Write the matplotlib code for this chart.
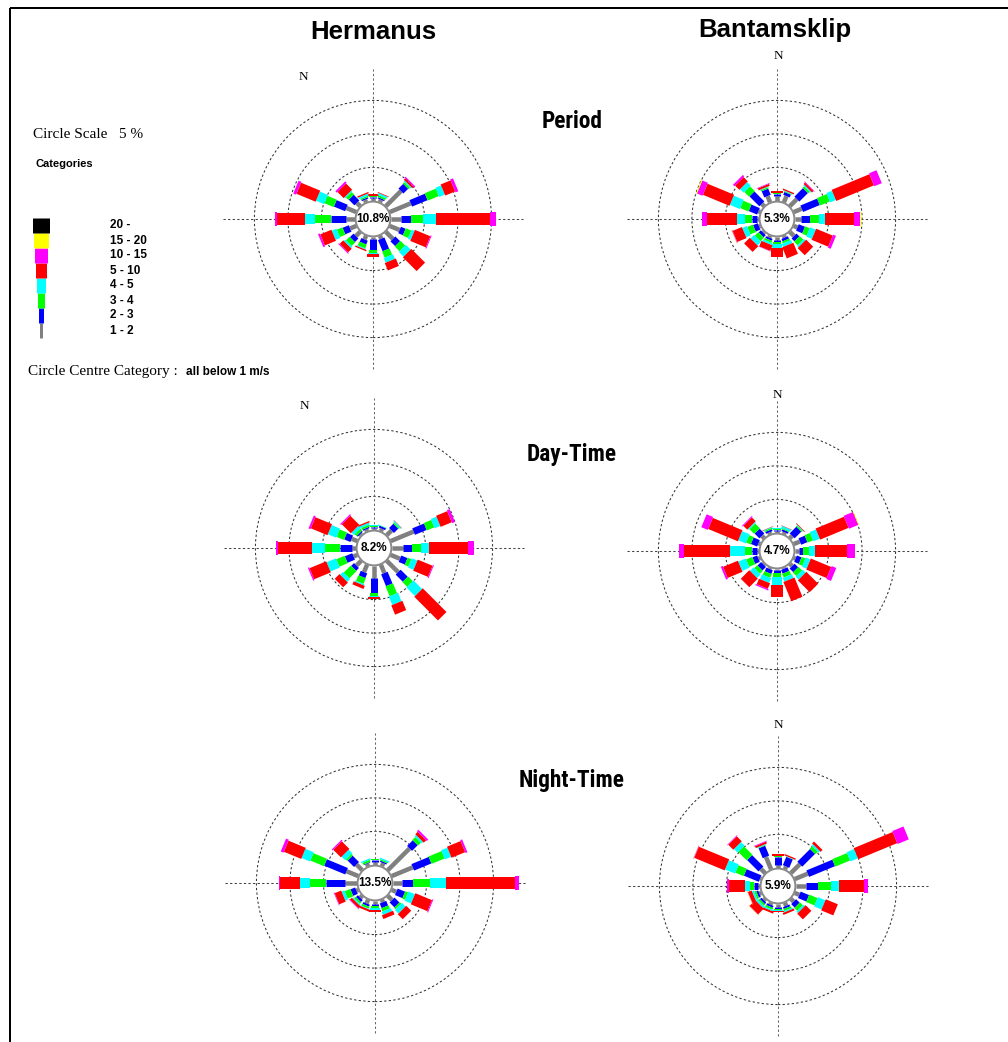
import matplotlib
matplotlib.use("Agg")
import matplotlib.pyplot as plt
import numpy as np
from matplotlib.patches import Circle
from matplotlib import font_manager
from matplotlib.font_manager import FontProperties

# ---------------- data ----------------
DIRECTIONS = ["N", "NNE", "NE", "ENE", "E", "ESE", "SE", "SSE",
              "S", "SSW", "SW", "WSW", "W", "WNW", "NW", "NNW"]
CATEGORIES = ["1 - 2", "2 - 3", "3 - 4", "4 - 5", "5 - 10", "10 - 15", "15 - 20", "20 -"]
CAT_COLORS = ["#808080", "#0000ff", "#00ff00", "#00ffff", "#ff0000", "#ff00ff", "#ffff00", "#000000"]

SITES = ["Hermanus", "Bantamsklip"]
PERIODS = ["Period", "Day-Time", "Night-Time"]
CIRCLE_SCALE = 5  # %

# frequency (%) per direction (rows) and speed category (columns 1-2 .. 15-20)
herm_period = [
    [0.5, 0.1, 0.1, 0.1, 0.2, 0, 0],
    [0.4, 0.2, 0.3, 0.3, 0.1, 0, 0],
    [3.2, 1.0, 0.3, 0.2, 0.3, 0.2, 0],
    [3.4, 2.5, 1.8, 0.9, 1.6, 0.45, 0],
    [1.5, 1.5, 1.8, 1.9, 8.0, 0.9, 0],
    [1.6, 0.75, 0.9, 0.45, 2.5, 0.15, 0],
    [1.5, 1.0, 1.0, 1.0, 2.9, 0, 0],
    [0.5, 1.8, 1.0, 0.75, 1.2, 0, 0],
    [0.3, 1.6, 0.5, 0.1, 0.4, 0.05, 0],
    [0.6, 0.6, 0.6, 0.15, 0.2, 0, 0],
    [0.9, 0.75, 0.75, 0.3, 0.75, 0.15, 0],
    [1.0, 1.0, 0.9, 0.75, 1.8, 0.3, 0],
    [1.3, 2.2, 2.4, 1.6, 4.2, 0.3, 0],
    [1.6, 1.8, 1.5, 1.3, 3.1, 0.45, 0],
    [0.7, 1.2, 0.5, 0.2, 1.3, 0.3, 0],
    [0.4, 0.2, 0.2, 0.3, 0.2, 0, 0],
]
bant_period = [
    [0.75, 0.3, 0.1, 0.1, 0.2, 0, 0],
    [1.0, 0.45, 0.1, 0.1, 0.2, 0, 0],
    [1.5, 1.8, 0.3, 0.2, 0.3, 0.1, 0],
    [1.3, 2.7, 1.6, 0.9, 6.1, 1.2, 0],
    [0.9, 1.35, 1.35, 0.9, 4.3, 0.9, 0.1],
    [0.6, 1.0, 0.75, 0.9, 2.7, 0.45, 0],
    [0.9, 0.6, 0.75, 0.3, 1.5, 0, 0],
    [0.3, 0.4, 0.3, 0.5, 1.8, 0, 0],
    [0.5, 0.3, 0.3, 0.5, 1.3, 0, 0],
    [0.3, 0.3, 0.3, 0.3, 0.9, 0.05, 0],
    [0.2, 0.45, 0.75, 0.75, 1.2, 0, 0],
    [0.2, 0.75, 0.9, 0.75, 1.5, 0.1, 0.05],
    [0.3, 0.75, 1.0, 1.2, 4.5, 0.75, 0],
    [0.3, 1.35, 1.35, 1.6, 4.3, 0.9, 0.15],
    [0.5, 2.1, 1.0, 0.75, 0.9, 0.3, 0],
    [1.0, 1.0, 0.2, 0.1, 0.3, 0.1, 0],
]
herm_day = [
    [0.3, 0.2, 0.1, 0.1, 0.1, 0, 0],
    [0.4, 0.3, 0.05, 0.05, 0, 0, 0],
    [1.0, 0.9, 0.2, 0.2, 0.05, 0, 0],
    [3.7, 1.9, 1.2, 0.9, 1.8, 0.45, 0],
    [1.6, 1.35, 1.35, 1.2, 5.8, 0.9, 0],
    [1.5, 1.0, 0.6, 0.9, 2.4, 0.15, 0],
    [2.4, 1.5, 1.0, 1.8, 5.0, 0, 0],
    [1.35, 1.9, 1.6, 1.35, 1.5, 0, 0],
    [1.8, 2.2, 0.45, 0.1, 0.4, 0, 0],
    [1.2, 0.75, 0.9, 0.2, 0.5, 0, 0],
    [1.0, 0.6, 1.5, 0.6, 1.0, 0, 0],
    [0.6, 1.2, 1.35, 1.5, 2.7, 0.2, 0],
    [0.6, 1.8, 2.2, 1.9, 5.2, 0.3, 0],
    [0.9, 1.0, 1.2, 1.35, 2.7, 0.3, 0],
    [0.2, 0.2, 0.4, 0.5, 1.9, 0.2, 0],
    [0.3, 0.2, 0.3, 0.3, 0.2, 0, 0],
]
bant_day = [
    [0.3, 0.2, 0.1, 0.1, 0.1, 0, 0],
    [0.3, 0.3, 0.15, 0.3, 0.05, 0, 0],
    [0.5, 1.4, 0.2, 0.1, 0.1, 0, 0],
    [1.0, 1.0, 0.9, 1.0, 4.6, 1.5, 0.1],
    [0.6, 0.6, 0.9, 0.9, 4.8, 1.1, 0.1],
    [0.3, 0.75, 0.6, 0.75, 3.3, 0.75, 0],
    [0.5, 0.75, 0.75, 0.6, 2.5, 0, 0],
    [0.15, 0.6, 0.6, 0.6, 3.1, 0, 0],
    [0.15, 0.45, 0.6, 1.2, 1.8, 0, 0],
    [0.2, 0.6, 0.6, 0.75, 0.9, 0.2, 0],
    [0.15, 0.75, 0.6, 0.75, 1.8, 0, 0],
    [0.3, 0.75, 1.0, 1.2, 2.4, 0.3, 0],
    [0.3, 0.75, 1.0, 2.2, 6.9, 0.75, 0],
    [0.3, 1.0, 0.75, 1.2, 4.8, 1.05, 0],
    [0.5, 1.0, 1.0, 0.2, 0.8, 0.15, 0],
    [0.3, 0.3, 0.2, 0.1, 0.05, 0, 0],
]
herm_night = [
    [0.5, 0.3, 0.05, 0, 0, 0, 0],
    [0.5, 0.2, 0.2, 0.2, 0, 0, 0],
    [4.6, 1.2, 0.6, 0.3, 0.5, 0.3, 0],
    [3.4, 2.8, 2.1, 1.0, 2.2, 0.3, 0],
    [1.35, 1.6, 2.5, 2.5, 10.2, 0.6, 0],
    [0.75, 1.2, 0.45, 1.05, 2.7, 0.15, 0],
    [0.9, 1.05, 0.3, 0.75, 1.05, 0, 0],
    [0.4, 0.75, 0.5, 0.5, 0.6, 0, 0],
    [0.5, 0.3, 0.3, 0.2, 0.4, 0, 0],
    [0.6, 0.3, 0.3, 0.1, 0.3, 0, 0],
    [0.4, 0.4, 0.3, 0.2, 0.4, 0.1, 0],
    [0.3, 0.75, 0.9, 0.45, 1.05, 0.1, 0],
    [1.8, 2.8, 2.4, 1.5, 3.0, 0.15, 0],
    [1.9, 3.4, 2.2, 1.35, 2.8, 0.45, 0],
    [1.2, 1.35, 0.3, 0.75, 1.6, 0.2, 0],
    [0.4, 0.1, 0.3, 0.2, 0, 0, 0],
]
bant_night = [
    [0.45, 1.2, 0.1, 0.1, 0.2, 0, 0],
    [0.45, 1.35, 0.05, 0.05, 0.2, 0, 0],
    [1.9, 2.7, 0.5, 0.3, 0.4, 0, 0],
    [2.1, 4.2, 2.4, 1.2, 6.3, 1.8, 0],
    [1.5, 1.8, 1.9, 1.2, 3.7, 0.6, 0],
    [0.75, 1.35, 1.35, 1.2, 1.95, 0, 0],
    [0.6, 0.75, 0.6, 0.3, 1.2, 0, 0],
    [0.5, 0.3, 0.3, 0.2, 0.3, 0, 0],
    [0.4, 0.3, 0.2, 0.1, 0.2, 0, 0],
    [0.3, 0.3, 0.3, 0.2, 0.3, 0, 0],
    [0.3, 0.3, 0.3, 0.3, 1.2, 0.05, 0.05],
    [0.3, 0.3, 0.3, 0.3, 0.6, 0.05, 0.05],
    [0.3, 0.6, 0.6, 0.75, 2.4, 0.3, 0],
    [0.2, 2.4, 1.35, 1.6, 4.9, 0.1, 0.05],
    [0.9, 2.4, 1.8, 0.75, 1.05, 0.1, 0],
    [2.0, 1.6, 0.1, 0.1, 0.3, 0.1, 0],
]
calm_pct = {"Hermanus": [10.8, 8.2, 13.5], "Bantamsklip": [5.3, 4.7, 5.9]}
rose_data = {"Hermanus": [herm_period, herm_day, herm_night],
             "Bantamsklip": [bant_period, bant_day, bant_night]}

# ---------------- layout ----------------
W, H, DPI = 1008, 1042, 100
PX_PER_PCT = 6.7
R0 = 2.7          # radius (in %) of calm circle where bars start
CALM_R = 2.6
BAR_W_PX = [4.5, 7, 8, 10, 12, 14, 15, 17]
LEG_W_PX = [3, 5, 7, 9, 11, 13, 15, 17]
CENTERS = {"Hermanus": [(373, 219), (374, 548), (375, 883)],
           "Bantamsklip": [(777, 219), (777, 551), (778, 886)]}
N_POS = {"Hermanus": [(303, 77), (304, 406), None],
         "Bantamsklip": [(778, 56), (777, 395), (778, 725)]}
PT = 72.0 / DPI

SERIF = ["Liberation Serif", "DejaVu Serif"]
SANS = ["Liberation Sans", "DejaVu Sans"]

# pick a condensed bold font file if one is installed
cond_fp = None
for key in ["LiberationSansNarrow-Bold.", "RobotoCondensed-Bold.", "DejaVuSansCondensed-Bold.",
            "OpenSans_Condensed-Bold", "OpenSans-CondBold"]:
    hits = [f.fname for f in font_manager.fontManager.ttflist if key in f.fname.split("/")[-1]]
    if hits:
        cond_fp = FontProperties(fname=hits[0])
        break
if cond_fp is None:
    cond_fp = FontProperties(family=SANS, weight="bold", stretch="condensed")

fig = plt.figure(figsize=(W / DPI, H / DPI), dpi=DPI)
fig.patch.set_facecolor("white")

bg = fig.add_axes([0, 0, 1, 1])
bg.set_xlim(0, W)
bg.set_ylim(H, 0)
bg.axis("off")

# frame
bg.plot([10, 10], [8, H], color="black", lw=2 * PT, solid_capstyle="butt")
bg.plot([10, W], [8, 8], color="black", lw=2 * PT, solid_capstyle="butt")

# titles
bg.text(373, 32, "Hermanus", ha="center", va="center", fontsize=18.5,
        fontweight="bold", family=SANS)
bg.text(775, 30, "Bantamsklip", ha="center", va="center", fontsize=18.5,
        fontweight="bold", family=SANS)
period_texts = []
for lab, y in zip(PERIODS, [121, 455, 780]):
    fp = cond_fp.copy()
    fp.set_size(19)
    period_texts.append(bg.text(572, y, lab, ha="center", va="center", fontproperties=fp))

# fit condensed titles to the reference widths
fig.canvas.draw()
rend = fig.canvas.get_renderer()
target_w = [64, 90, 101]
ratios = [tw / t.get_window_extent(rend).width for t, tw in zip(period_texts, target_w)]
fs = 19 * float(np.mean(ratios))
for t in period_texts:
    t.set_fontsize(fs)

# legend
bg.text(33, 135, "Circle Scale   %d %%" % CIRCLE_SCALE, ha="left", va="center",
        fontsize=11, family=SERIF)
bg.text(36, 164, "Categories", ha="left", va="center", fontsize=8,
        fontweight="bold", family=SANS)
seg_h = 15
y_bottom = 338
for k, (lab, col) in enumerate(zip(CATEGORIES, CAT_COLORS)):
    y1 = y_bottom - seg_h * k
    y2 = y1 - seg_h
    bg.plot([41, 41], [y1, y2], color=col, lw=LEG_W_PX[k] * PT, solid_capstyle="butt")
    bg.text(110, (y1 + y2) / 2, lab, ha="left", va="center", fontsize=8.5,
            fontweight="bold", family=SANS)
bg.text(28, 371, "Circle Centre Category :", ha="left", va="center",
        fontsize=11, family=SERIF)
bg.text(186, 372, "all below 1 m/s", ha="left", va="center", fontsize=8.5,
        fontweight="bold", family=SANS)

angles = np.deg2rad(np.arange(16) * 22.5)
half = 160
lim = half / PX_PER_PCT
L = 150 / PX_PER_PCT

for site in SITES:
    for p in range(3):
        cx, cy = CENTERS[site][p]
        ax = fig.add_axes([(cx - half) / W, (H - cy - half) / H, 2 * half / W, 2 * half / H])
        ax.set_xlim(-lim, lim)
        ax.set_ylim(-lim, lim)
        ax.axis("off")
        for k in (1, 2, 3):
            ax.add_patch(Circle((0, 0), R0 + CIRCLE_SCALE * k, fill=False,
                                ls=(0, (2.2, 2.2)), lw=0.75, ec="#333333", zorder=1))
        ax.plot([-L, L], [0, 0], ls=(0, (2.2, 2.2)), lw=0.75, color="#444444", zorder=1)
        ax.plot([0, 0], [-L, L], ls=(0, (2.2, 2.2)), lw=0.75, color="#666666", zorder=1)
        data = rose_data[site][p]
        for i, th in enumerate(angles):
            r = R0
            s, c = np.sin(th), np.cos(th)
            for j, v in enumerate(data[i]):
                if v <= 0:
                    continue
                ax.plot([r * s, (r + v) * s], [r * c, (r + v) * c], color=CAT_COLORS[j],
                        lw=BAR_W_PX[j] * PT, solid_capstyle="butt", zorder=3)
                r += v
        ax.add_patch(Circle((0, 0), CALM_R, fc="white", ec="#8a8a8a", lw=1.4, zorder=5))
        ax.text(0, 0, "%.1f%%" % calm_pct[site][p], ha="center", va="center",
                fontsize=8.5, fontweight="bold", family=SANS, zorder=6)
        npos = N_POS[site][p]
        if npos is not None:
            bg.text(npos[0], npos[1], "N", ha="center", va="center", fontsize=9.5,
                    family=SERIF)

fig.savefig("out.png", dpi=DPI, facecolor="white")
